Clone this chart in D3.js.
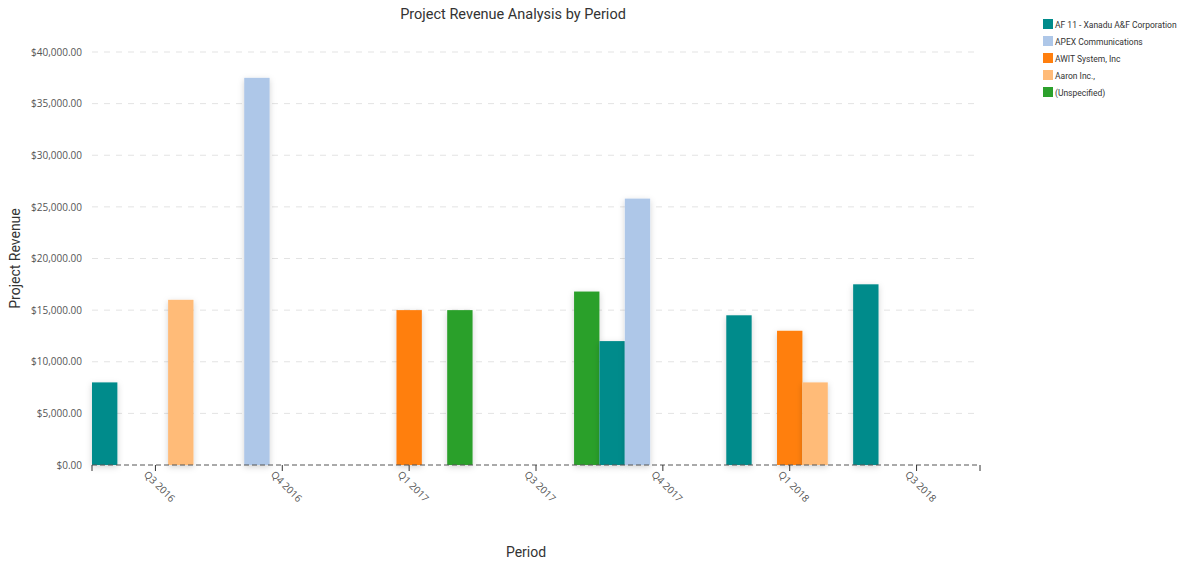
<!DOCTYPE html>
<html>
<head>
<meta charset="utf-8">
<script src="https://cdn.jsdelivr.net/npm/d3@7"></script>
<style>
  body { margin: 0; background: #fff; }
  svg { display: block; }
  .title { font-family: Roboto, sans-serif; font-size: 14.5px; fill: #333; }
  .axis-title { font-family: Roboto, sans-serif; font-size: 14px; fill: #333; }
  .tick text { font-family: "Open Sans", sans-serif; font-size: 10px; fill: #555; }
  .legend text { font-family: Roboto, sans-serif; font-size: 8.5px; fill: #333; }
</style>
</head>
<body>
<div id="chart"></div>
<script>
const periods = ['Q3 2016', 'Q4 2016', 'Q1 2017', 'Q3 2017', 'Q4 2017', 'Q1 2018', 'Q3 2018'];
const seriesNames = ['AF 11 - Xanadu A&F Corporation', 'APEX Communications', 'AWIT System, Inc', 'Aaron Inc.,', '(Unspecified)'];
const seriesColors = ['#008b8b', '#aec7e8', '#ff7f0e', '#ffbb78', '#2ca02c'];

// one value per period, null when there is no bar
const xanadu      = [8000, null, null, null, 12000, 14500, 17500];
const apex        = [null, 37500, null, null, 25800, null, null];
const awit        = [null, null, 15000, null, null, 13000, null];
const aaron       = [16000, null, null, null, null, 8000, null];
const unspecified = [null, null, 15000, 16800, null, null, null];
const yTicks = [0, 5000, 10000, 15000, 20000, 25000, 30000, 35000, 40000];

const seriesValues = [xanadu, apex, awit, aaron, unspecified];

const W = 1186, H = 564;
const margin = {top: 52, right: 206, bottom: 99, left: 92};
const width = W - margin.left - margin.right;
const height = H - margin.top - margin.bottom;

const svg = d3.select('#chart').append('svg')
    .attr('width', W)
    .attr('height', H);

const defs = svg.append('defs');
const shadow = defs.append('filter')
    .attr('id', 'shadow')
    .attr('x', '-30%').attr('y', '-10%')
    .attr('width', '160%').attr('height', '130%');
shadow.append('feDropShadow')
    .attr('dx', 0).attr('dy', 2)
    .attr('stdDeviation', 3)
    .attr('flood-color', '#000')
    .attr('flood-opacity', 0.18);

const g = svg.append('g')
    .attr('transform', 'translate(' + margin.left + ',' + margin.top + ')');

// scales
const x0 = d3.scaleBand()
    .domain(periods)
    .range([0, width])
    .padding(0);
const x1 = d3.scaleBand()
    .domain(d3.range(seriesNames.length))
    .range([0, x0.bandwidth()])
    .padding(0);
const y = d3.scaleLinear()
    .domain([0, 40000])
    .range([height, 0]);

// gridlines
g.append('g')
    .selectAll('line')
    .data(yTicks.filter(function(t){ return t > 0; }))
    .enter().append('line')
    .attr('x1', 0)
    .attr('x2', width)
    .attr('y1', function(d){ return y(d); })
    .attr('y2', function(d){ return y(d); })
    .style('stroke', '#e3e3e3')
    .style('stroke-dasharray', '6,6');

// y axis labels, no axis line
const yAxis = d3.axisLeft(y)
    .tickValues(yTicks)
    .tickSize(0)
    .tickPadding(10)
    .tickFormat(function(d){ return '$' + d3.format(',.2f')(d); });
g.append('g')
    .attr('class', 'y axis')
    .call(yAxis)
    .call(function(a){ a.select('.domain').remove(); });

// bars
const rows = [];
periods.forEach(function(p, pi){
    seriesValues.forEach(function(vals, si){
        if (vals[pi] !== null) rows.push({period: p, series: si, value: vals[pi]});
    });
});

g.append('g')
    .selectAll('rect')
    .data(rows)
    .enter().append('rect')
    .attr('x', function(d){ return x0(d.period) + x1(d.series); })
    .attr('y', function(d){ return y(d.value); })
    .attr('width', x1.bandwidth())
    .attr('height', function(d){ return height - y(d.value); })
    .attr('filter', 'url(#shadow)')
    .style('fill', function(d){ return seriesColors[d.series]; });

// x axis
const xAxis = d3.axisBottom(x0)
    .tickSize(6)
    .tickPadding(6);
const xg = g.append('g')
    .attr('class', 'x axis')
    .attr('transform', 'translate(0,' + height + ')')
    .call(xAxis);
xg.select('.domain').remove();
xg.insert('line', ':first-child')
    .attr('x1', 0).attr('x2', width)
    .style('stroke', '#555')
    .style('stroke-dasharray', '5,3');
xg.selectAll('.tick line').style('stroke', '#333');
// end ticks
xg.selectAll('.endtick')
    .data([0, width])
    .enter().append('line')
    .attr('class', 'endtick')
    .attr('x1', function(d){ return d; })
    .attr('x2', function(d){ return d; })
    .attr('y1', 0).attr('y2', 6)
    .style('stroke', '#333');
xg.selectAll('.tick text')
    .attr('transform', 'translate(-4,2) rotate(45)')
    .style('text-anchor', 'start')
    .attr('dy', '0.35em')
    .attr('y', 8)
    .attr('x', 0);

// titles
svg.append('text')
    .attr('class', 'title')
    .attr('x', 513)
    .attr('y', 19)
    .attr('text-anchor', 'middle')
    .text('Project Revenue Analysis by Period');

svg.append('text')
    .attr('class', 'axis-title')
    .attr('transform', 'translate(20,' + (margin.top + height / 2) + ') rotate(-90)')
    .attr('text-anchor', 'middle')
    .text('Project Revenue');

svg.append('text')
    .attr('class', 'axis-title')
    .attr('x', 526)
    .attr('y', 557)
    .attr('text-anchor', 'middle')
    .text('Period');

// legend
const legend = svg.append('g')
    .attr('class', 'legend')
    .attr('transform', 'translate(1043,19)');
const item = legend.selectAll('g')
    .data(seriesNames)
    .enter().append('g')
    .attr('transform', function(d, i){ return 'translate(0,' + i * 17 + ')'; });
item.append('rect')
    .attr('width', 10)
    .attr('height', 10)
    .style('fill', function(d, i){ return seriesColors[i]; });
item.append('text')
    .attr('x', 12)
    .attr('y', 8.5)
    .text(function(d){ return d; });
</script>
</body>
</html>
